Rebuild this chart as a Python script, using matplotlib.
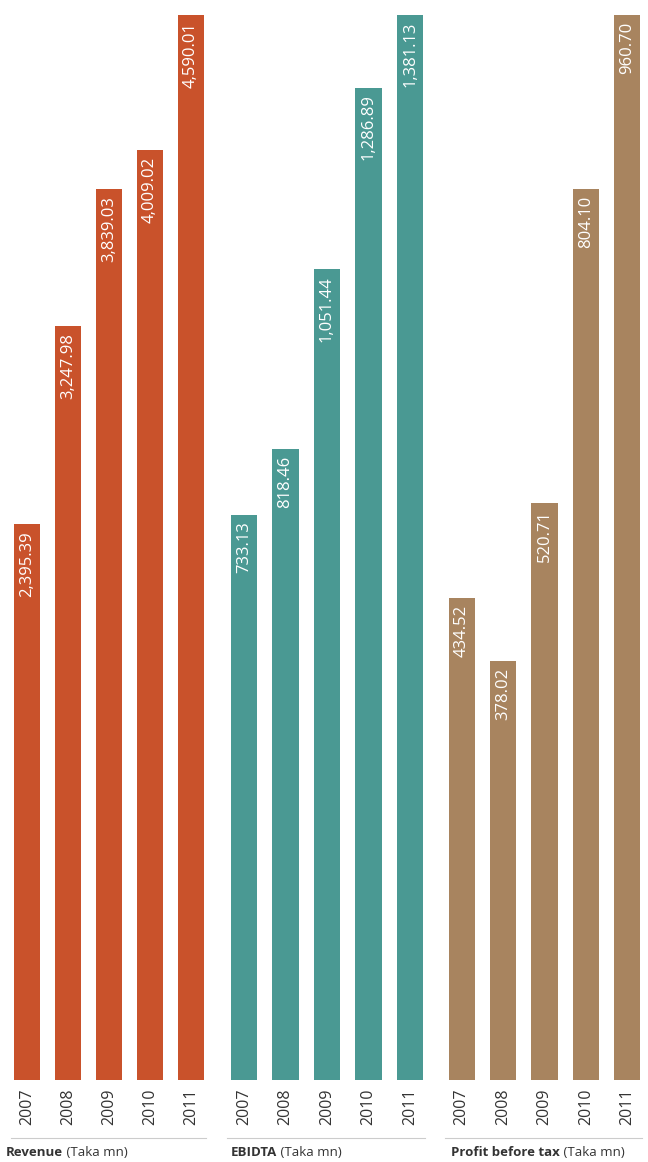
import matplotlib
matplotlib.use("Agg")
import matplotlib.pyplot as plt
from matplotlib.lines import Line2D

years = ["2007", "2008", "2009", "2010", "2011"]
revenue = [2395.39, 3247.98, 3839.03, 4009.02, 4590.01]
ebidta = [733.13, 818.46, 1051.44, 1286.89, 1381.13]
pbt = [434.52, 378.02, 520.71, 804.10, 960.70]

titles_bold = ["Revenue", "EBIDTA", "Profit before tax"]
titles_rest = [" (Taka mn)", " (Taka mn)", " (Taka mn)"]
colors = ["#C9522B", "#4A9993", "#A8845F"]

plt.rcParams['font.family'] = ['Open Sans', 'DejaVu Sans']

W, H = 648, 1162
fig = plt.figure(figsize=(W / 100, H / 100), dpi=100)
fig.patch.set_facecolor("white")

panels = [(6.5, 211.5), (223, 431), (441, 648)]
title_x = [6, 231, 451]
bottom_px, top_px = 1080, 15

series = [revenue, ebidta, pbt]
for k, (vals, (l, r)) in enumerate(zip(series, panels)):
    ax = fig.add_axes([l / W, 1 - bottom_px / H, (r - l) / W, (bottom_px - top_px) / H])
    x = list(range(len(years)))
    ax.bar(x, vals, width=0.63, color=colors[k])
    ax.set_xlim(-0.5, len(years) - 0.5)
    ax.set_ylim(0, max(vals))
    for s in ax.spines.values():
        s.set_visible(False)
    ax.set_yticks([])
    ax.set_xticks(x)
    ax.set_xticklabels(years, rotation=90, fontsize=11.5, color="#333333")
    ax.tick_params(axis='x', length=0, pad=6)
    for xi, v in zip(x, vals):
        ax.annotate(f"{v:,.2f}", xy=(xi, v), xytext=(0, -5), textcoords="offset points",
                    rotation=90, ha="center", va="top", color="white", fontsize=12)
    # underline
    y_line = 1 - 1138 / H
    fig.add_artist(Line2D([(l + 4) / W, (r - 6) / W], [y_line, y_line],
                          transform=fig.transFigure, color="#cccccc", lw=0.8))
    t1 = fig.text(title_x[k] / W, 1 - 1159 / H, titles_bold[k], fontsize=9.5, fontweight="bold",
                  color="#333333", ha="left", va="bottom")
    ax.annotate(titles_rest[k], xy=(1, 0), xycoords=t1, ha="left", va="bottom",
                fontsize=9.5, color="#333333", annotation_clip=False)

fig.savefig("out.png", dpi=100, facecolor="white")
